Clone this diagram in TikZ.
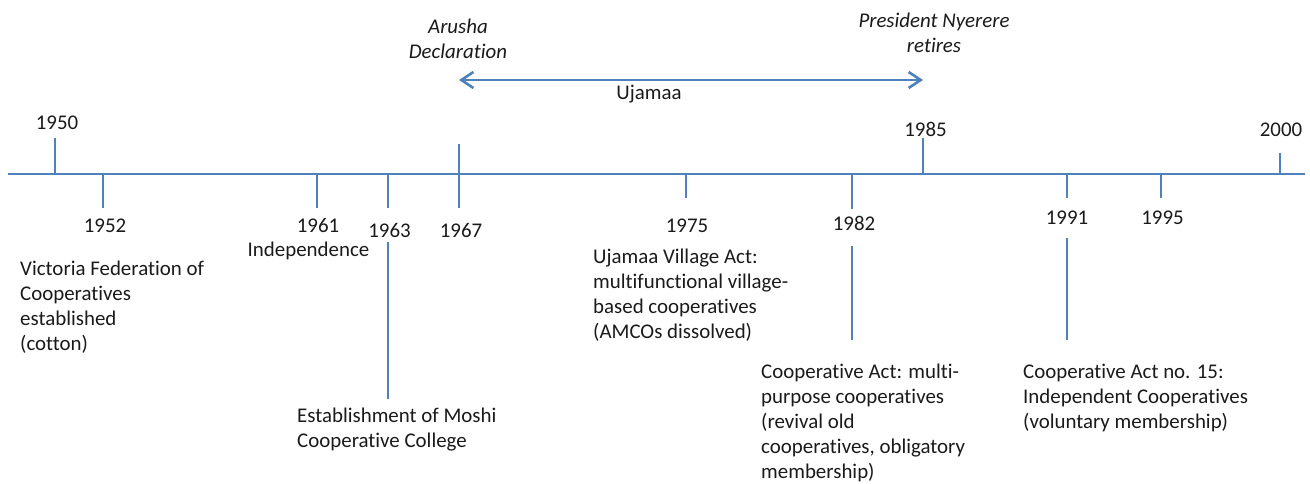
\documentclass[tikz,border=0pt]{standalone}
\usepackage{fontspec}
\setmainfont{Carlito}[Ligatures={NoCommon,NoRequired,NoContextual}]
\usetikzlibrary{arrows.meta}
\definecolor{tl}{HTML}{4F81BD}
\definecolor{txt}{HTML}{1A1A1A}
\tikzset{
  axis/.style={draw=tl, line width=2.8pt},
  tick/.style={draw=tl, line width=2.8pt},
  lbl/.style={font=\fontsize{20.9}{25}\selectfont, inner sep=0pt, text=txt},
  desc/.style={lbl, align=left, anchor=base west},
  itl/.style={lbl, font=\fontsize{20.9}{25.5}\selectfont\itshape, align=center, anchor=base},
}
\begin{document}
\begin{tikzpicture}[x=1pt,y=-1pt]
\useasboundingbox (0,0) rectangle (1310,484);
% axis
\coordinate (L) at (8,174);
\coordinate (R) at (1305,174);
\draw[axis] (L) -- (R);
% ticks
\coordinate (t50a) at (55,138);  \coordinate (t50b) at (55,174);
\coordinate (t52a) at (103,174); \coordinate (t52b) at (103,208);
\coordinate (t61a) at (317,174); \coordinate (t61b) at (317,208);
\coordinate (t63a) at (388,174); \coordinate (t63b) at (388,208);
\coordinate (t67a) at (459,144); \coordinate (t67b) at (459,208);
\coordinate (t75a) at (686,174); \coordinate (t75b) at (686,198);
\coordinate (t82a) at (852,174); \coordinate (t82b) at (852,209);
\coordinate (t85a) at (923,138); \coordinate (t85b) at (923,174);
\coordinate (t91a) at (1067,174); \coordinate (t91b) at (1067,198);
\coordinate (t95a) at (1161,174); \coordinate (t95b) at (1161,198);
\coordinate (t00a) at (1280,153); \coordinate (t00b) at (1280,174);
\foreach \t in {50,52,61,63,67,75,82,85,91,95,00}
  \draw[tick] (t\t a) -- (t\t b);
% long connectors
\coordinate (c63a) at (388,242); \coordinate (c63b) at (388,399);
\coordinate (c82a) at (852,246); \coordinate (c82b) at (852,340);
\coordinate (c91a) at (1067,238); \coordinate (c91b) at (1067,340);
\draw[tick] (c63a) -- (c63b);
\draw[tick] (c82a) -- (c82b);
\draw[tick] (c91a) -- (c91b);
% year labels
\node[lbl, anchor=base] (y50) at (57,130) {1950};
\node[lbl, anchor=base] (y52) at (105,232) {1952};
\node[lbl, anchor=base] (y61) at (318,232) {1961};
\node[lbl, anchor=base] (y63) at (389.5,237) {1963};
\node[lbl, anchor=base] (y67) at (461,237) {1967};
\node[lbl, anchor=base] (y75) at (687,232) {1975};
\node[lbl, anchor=base] (y82) at (854,230) {1982};
\node[lbl, anchor=base] (y85) at (925.5,137) {1985};
\node[lbl, anchor=base] (y91) at (1067,225) {1991};
\node[lbl, anchor=base] (y95) at (1162.5,225) {1995};
\node[lbl, anchor=base] (y00) at (1281,137) {2000};
% Ujamaa arrow
\coordinate (ua) at (459,80);
\coordinate (ub) at (923,80);
\draw[tick, line width=2.6pt, {Straight Barb[length=12pt,width=16pt]}-{Straight Barb[length=12pt,width=16pt]}] (ua) -- (ub);
\node[lbl, anchor=base] (uj) at (649,100) {Ujamaa};
\node[itl] (arusha) at (458,59) {Arusha\\Declaration};
\node[itl] (nyerere) at (934,53) {President Nyerere\\retires};
% descriptions
\node[desc] (d52) at (20,350) {Victoria Federation of\\Cooperatives\\established\\(cotton)};
\node[lbl, anchor=base] (d61) at (308.5,256) {Independence};
\node[desc] (d63) at (297,447) {Establishment of Moshi\\Cooperative College};
\node[desc] (d75) at (593,338) {Ujamaa Village Act:\\multifunctional village-\\based cooperatives\\(AMCOs dissolved)};
\node[desc] (d82) at (761,478) {Cooperative Act: multi-\\purpose cooperatives\\(revival old\\cooperatives, obligatory\\membership)};
\node[desc] (d91) at (1023,428) {Cooperative Act no. 15:\\Independent Cooperatives\\(voluntary membership)};
\end{tikzpicture}
\end{document}
